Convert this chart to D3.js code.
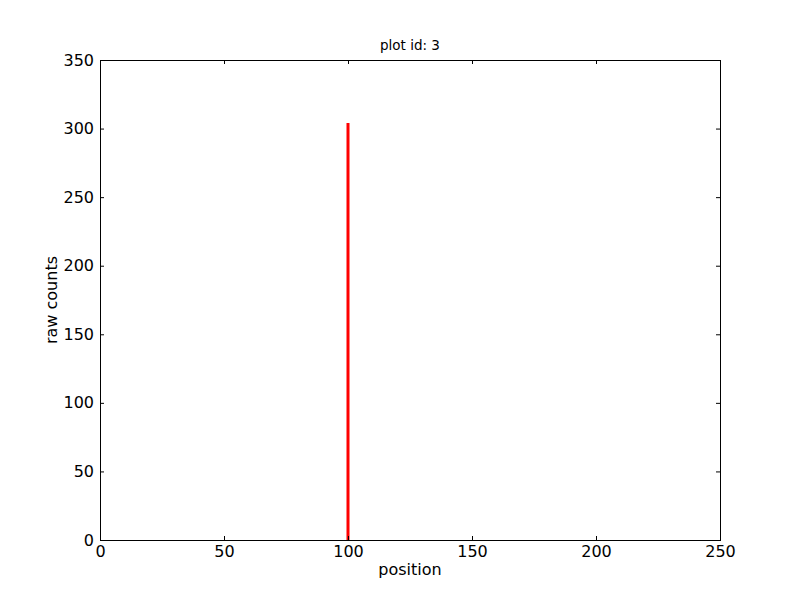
<!DOCTYPE html>
<html><head><meta charset="utf-8">
<script src="https://cdn.jsdelivr.net/npm/d3@7"></script>
<style>body{margin:0;background:#fff}svg{display:block}text{font-family:"DejaVu Sans",sans-serif}</style>
</head><body><svg id="c" width="800" height="600"></svg>
<script>
const positions = [100, 100];
const counts = [0, 304];
const xTicks = [0, 50, 100, 150, 200, 250];
const yTicks = [0, 50, 100, 150, 200, 250, 300, 350];
const title = "plot id: 3";
const xLabel = "position";
const yLabel = "raw counts";

const svg = d3.select("#c");
const L = 100, R = 720, T = 60, B = 540;
const x = d3.scaleLinear().domain([0, 250]).range([L, R]);
const y = d3.scaleLinear().domain([0, 350]).range([B, T]);

svg.append("rect").attr("x", 0).attr("y", 0).attr("width", 800).attr("height", 600).attr("fill", "#fff");

const data = positions.map((p, i) => ({ p, c: counts[i] }));
svg.append("path").datum(data)
  .attr("d", d3.line().x(d => x(d.p)).y(d => y(d.c)))
  .attr("fill", "none").attr("stroke", "#ff0000").attr("stroke-width", 3);

function styleAxis(g) {
  g.select(".domain").remove();
  g.selectAll(".tick line").attr("stroke", "#000").attr("stroke-width", 1);
  g.selectAll(".tick text").attr("font-size", 16).attr("fill", "#000").attr("font-family", "DejaVu Sans");
}
svg.append("g").attr("transform", `translate(0,${B})`)
  .call(d3.axisBottom(x).tickValues(xTicks).tickSizeInner(-4).tickSizeOuter(0).tickPadding(6).tickFormat(d3.format("d")))
  .call(styleAxis);
svg.append("g").attr("transform", `translate(0,${T})`)
  .call(d3.axisTop(x).tickValues(xTicks).tickSizeInner(-4).tickSizeOuter(0).tickFormat(""))
  .call(styleAxis);
svg.append("g").attr("transform", `translate(${L},0)`)
  .call(d3.axisLeft(y).tickValues(yTicks).tickSizeInner(-4).tickSizeOuter(0).tickPadding(6).tickFormat(d3.format("d")))
  .call(styleAxis);
svg.append("g").attr("transform", `translate(${R},0)`)
  .call(d3.axisRight(y).tickValues(yTicks).tickSizeInner(-4).tickSizeOuter(0).tickFormat(""))
  .call(styleAxis);

svg.append("rect").attr("x", L + 0.5).attr("y", T + 0.5).attr("width", R - L).attr("height", B - T)
  .attr("fill", "none").attr("stroke", "#000").attr("stroke-width", 1);

svg.append("text").attr("x", (L + R) / 2).attr("y", 50).attr("text-anchor", "middle").attr("font-size", 13.5).text(title);
svg.append("text").attr("x", (L + R) / 2).attr("y", 575).attr("text-anchor", "middle").attr("font-size", 16).text(xLabel);
svg.append("text").attr("transform", `translate(57,${(T + B) / 2}) rotate(-90)`).attr("text-anchor", "middle").attr("font-size", 16).text(yLabel);
</script></body></html>
